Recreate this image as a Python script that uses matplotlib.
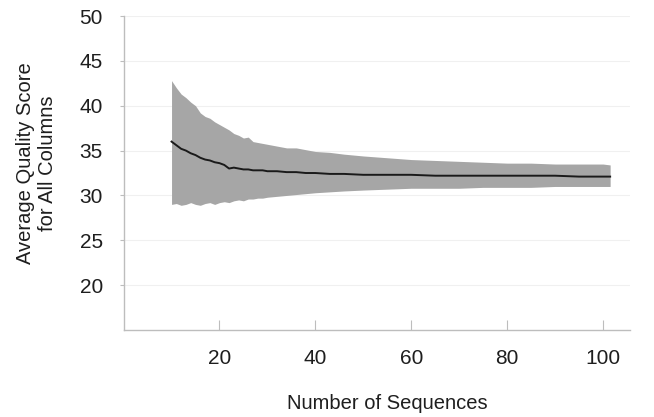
import matplotlib
matplotlib.use("Agg")
import matplotlib.pyplot as plt

plt.rcParams['font.family'] = ['Liberation Sans', 'DejaVu Sans']

n_seq = [10, 11, 12, 13, 14, 15, 16, 17, 18, 19, 20, 21, 22, 23, 24, 25, 26, 27, 28, 29,
         30, 32, 34, 36, 38, 40, 43, 46, 50, 55, 60, 65, 70, 75, 80, 85, 90, 95, 100, 101.5]
upper = [42.8, 42.0, 41.3, 40.9, 40.4, 40.0, 39.2, 38.8, 38.6, 38.2, 37.9, 37.6, 37.3, 36.9,
         36.7, 36.4, 36.5, 36.0, 35.9, 35.8, 35.7, 35.5, 35.3, 35.3, 35.1, 34.9, 34.8, 34.6,
         34.4, 34.2, 34.0, 33.9, 33.8, 33.7, 33.6, 33.6, 33.5, 33.5, 33.5, 33.4]
lower = [29.0, 29.1, 28.9, 29.0, 29.2, 29.0, 28.9, 29.1, 29.2, 29.0, 29.2, 29.3, 29.2, 29.4,
         29.5, 29.4, 29.6, 29.6, 29.7, 29.7, 29.8, 29.9, 30.0, 30.1, 30.2, 30.3, 30.4, 30.5,
         30.6, 30.7, 30.8, 30.8, 30.8, 30.9, 30.9, 30.9, 31.0, 31.0, 31.0, 31.0]
mean = [36.0, 35.6, 35.2, 35.0, 34.7, 34.5, 34.2, 34.0, 33.9, 33.7, 33.6, 33.4, 33.0, 33.1,
        33.0, 32.9, 32.9, 32.8, 32.8, 32.8, 32.7, 32.7, 32.6, 32.6, 32.5, 32.5, 32.4, 32.4,
        32.3, 32.3, 32.3, 32.2, 32.2, 32.2, 32.2, 32.2, 32.2, 32.1, 32.1, 32.1]

x_ticks = [20, 40, 60, 80, 100]
y_ticks = [20, 25, 30, 35, 40, 45, 50]

fig = plt.figure(figsize=(6.54, 4.17), dpi=100)
ax = fig.add_axes([0.189, 0.2086, 0.774, 0.753])

ax.fill_between(n_seq, lower, upper, color='#a6a6a6', linewidth=0, zorder=2)
ax.plot(n_seq, mean, color='#1a1a1a', linewidth=1.4, zorder=3)

ax.set_xlim(0, 105.6)
ax.set_ylim(15, 50)
ax.set_xticks(x_ticks)
ax.set_yticks(y_ticks)
ax.yaxis.grid(True, color='#f0f0f0', linewidth=0.8, zorder=0)
ax.set_axisbelow(True)

for s in ['top', 'right']:
    ax.spines[s].set_visible(False)
for s in ['left', 'bottom']:
    ax.spines[s].set_color('#bdbdbd')
    ax.spines[s].set_linewidth(1.0)

ax.tick_params(axis='x', direction='in', length=7, color='#bdbdbd', labelsize=15, pad=14, labelcolor='#1e1e1e')
ax.tick_params(axis='y', direction='out', length=3, color='#bdbdbd', labelsize=15, pad=12, labelcolor='#1e1e1e')

ax.set_xlabel('Number of Sequences', fontsize=14.5, color='#1e1e1e')
ax.xaxis.set_label_coords(0.52, -0.205)
ax.set_ylabel('Average Quality Score\nfor All Columns', fontsize=14.5, color='#1e1e1e', linespacing=1.25)
ax.yaxis.set_label_coords(-0.131, 0.53)

fig.savefig('out.png', dpi=100)
